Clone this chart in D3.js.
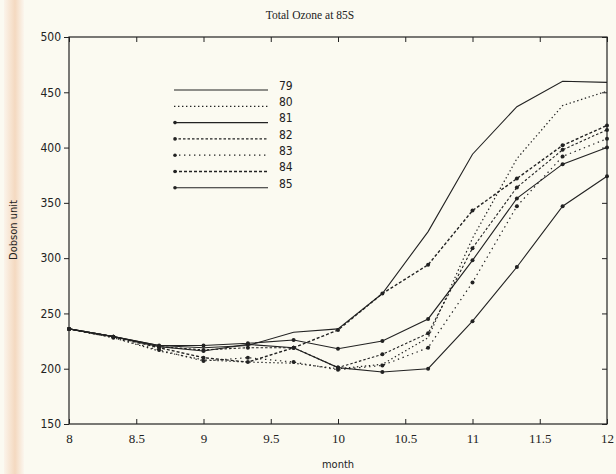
<!DOCTYPE html>
<html>
<head>
<meta charset="utf-8">
<script src="https://cdn.jsdelivr.net/npm/d3@7"></script>
<style>
  body { margin: 0; background: #fbfaf1; }
  svg { display: block; }
</style>
</head>
<body>
<svg width="616" height="474"></svg>
<script>
// month positions (every third of a month)
const months = [8, 8.33, 8.67, 9, 9.33, 9.67, 10, 10.33, 10.67, 11, 11.33, 11.67, 12]
const years = ['79', '80', '81', '82', '83', '84', '85']

// total ozone, Dobson units
const oz79 = [236, 229, 221, 219, 221, 233, 236, 268, 324, 394, 437, 460, 459]
const oz80 = [236, 228, 216, 208, 206, 205, 200, 204, 228, 318, 390, 438, 451]
const oz81 = [236, 229, 221, 221, 223, 226, 218, 225, 245, 298, 354, 385, 400]
const oz82 = [236, 229, 220, 217, 219, 219, 201, 213, 232, 309, 364, 398, 416]
const oz83 = [236, 228, 217, 207, 210, 206, 199, 203, 219, 278, 347, 392, 408]
const oz84 = [236, 229, 219, 210, 206, 219, 235, 268, 294, 343, 372, 402, 420]
const oz85 = [236, 229, 220, 216, 222, 219, 201, 197, 200, 243, 292, 347, 374]

const xTicks = [8, 8.5, 9, 9.5, 10, 10.5, 11, 11.5, 12]
const yTicks = [150, 200, 250, 300, 350, 400, 450, 500]

const allValues = [oz79, oz80, oz81, oz82, oz83, oz84, oz85]
const data = years.map((yr, i) => ({
  name: yr,
  values: months.map((m, j) => ({ month: m, oz: allValues[i][j] }))
}))

// line look per year (solid / dotted / dashed, with or without dots)
const look = {
  '79': { dash: null, dots: false, w: 1.1 },
  '80': { dash: '1.4,2.6', dots: false, w: 1.2 },
  '81': { dash: null, dots: true, w: 1.1 },
  '82': { dash: '2.5,2', dots: true, w: 1.1 },
  '83': { dash: '1.4,3.6', dots: true, w: 1.2 },
  '84': { dash: '3,2', dots: true, w: 1.4 },
  '85': { dash: null, dots: true, w: 1.1 }
}

const svg = d3.select('svg')
const ink = '#222'

// scanner strip on the left edge
const grad = svg.append('defs').append('linearGradient').attr('id', 'strip')
grad.append('stop').attr('offset', '0%').attr('stop-color', '#fbf4ea')
grad.append('stop').attr('offset', '55%').attr('stop-color', '#f4d9c0')
grad.append('stop').attr('offset', '100%').attr('stop-color', '#fbf6ee')
svg.append('rect').attr('x', 4).attr('y', 0).attr('width', 20).attr('height', 474)
  .attr('fill', 'url(#strip)')

const x = d3.scaleLinear().domain([8, 12]).range([69, 607])
const y = d3.scaleLinear().domain([150, 500]).range([424, 37])

const g = svg.append('g')

// frame
g.append('rect')
  .attr('x', x(8)).attr('y', y(500))
  .attr('width', x(12) - x(8)).attr('height', y(150) - y(500))
  .attr('fill', 'none').attr('stroke', ink).attr('stroke-width', 1.2)

// bottom axis, ticks pointing in
const xAxis = g.append('g')
  .attr('transform', 'translate(0,' + y(150) + ')')
  .call(d3.axisBottom(x).tickValues(xTicks).tickSize(-5).tickPadding(10).tickFormat(d3.format('')))
xAxis.select('.domain').remove()
xAxis.selectAll('line').attr('stroke', ink)
xAxis.selectAll('text')
  .attr('font-family', '"Liberation Serif", serif')
  .attr('font-size', 13).attr('fill', ink)

// top ticks
g.append('g')
  .attr('transform', 'translate(0,' + y(500) + ')')
  .call(d3.axisTop(x).tickValues(xTicks).tickSize(-5).tickFormat(''))
  .call(a => a.select('.domain').remove())
  .selectAll('line').attr('stroke', ink)

// left axis, ticks pointing out
const yAxis = g.append('g')
  .attr('transform', 'translate(' + x(8) + ',0)')
  .call(d3.axisLeft(y).tickValues(yTicks).tickSize(5).tickPadding(3))
yAxis.select('.domain').remove()
yAxis.selectAll('line').attr('stroke', ink)
yAxis.selectAll('text')
  .attr('font-family', '"DejaVu Sans Condensed", "DejaVu Sans", sans-serif')
  .attr('font-size', 12).attr('fill', ink)

// right ticks
g.append('g')
  .attr('transform', 'translate(' + x(12) + ',0)')
  .call(d3.axisRight(y).tickValues(yTicks).tickSize(-5).tickFormat(''))
  .call(a => a.select('.domain').remove())
  .selectAll('line').attr('stroke', ink)

// the series
const line = d3.line().x(d => x(d.month)).y(d => y(d.oz))

const series = g.append('g').selectAll('g')
  .data(data)
  .enter().append('g')

series.append('path')
  .attr('d', d => line(d.values))
  .attr('fill', 'none')
  .attr('stroke', ink)
  .attr('stroke-width', d => look[d.name].w)
  .attr('stroke-dasharray', d => look[d.name].dash)

series.filter(d => look[d.name].dots)
  .selectAll('circle')
  .data(d => d.values)
  .enter().append('circle')
  .attr('cx', d => x(d.month))
  .attr('cy', d => y(d.oz))
  .attr('r', 2)
  .attr('fill', ink)

// legend
const legend = g.append('g')
const legendRow = legend.selectAll('g')
  .data(years)
  .enter().append('g')
  .attr('transform', (d, i) => 'translate(0,' + (90 + i * 16.3) + ')')

legendRow.append('line')
  .attr('x1', 174).attr('x2', 268)
  .attr('stroke', ink)
  .attr('stroke-width', d => look[d].w)
  .attr('stroke-dasharray', d => look[d].dash)

legendRow.filter(d => look[d].dots)
  .append('circle')
  .attr('cx', 175).attr('r', 1.8).attr('fill', ink)

legendRow.append('text')
  .attr('x', 279).attr('y', -4)
  .attr('dy', '0.32em')
  .attr('font-family', '"DejaVu Sans Condensed", "DejaVu Sans", sans-serif')
  .attr('font-size', 12).attr('fill', ink)
  .text(d => d)

// titles
svg.append('text')
  .attr('x', 310).attr('y', 19)
  .attr('text-anchor', 'middle')
  .attr('font-family', '"Liberation Serif", serif')
  .attr('font-size', 11.5).attr('fill', ink)
  .text('Total Ozone at 85S')

svg.append('text')
  .attr('x', 338).attr('y', 468)
  .attr('text-anchor', 'middle')
  .attr('font-family', '"DejaVu Sans Condensed", "DejaVu Sans", sans-serif')
  .attr('font-size', 11).attr('fill', ink)
  .text('month')

svg.append('text')
  .attr('transform', 'translate(17,230) rotate(-90)')
  .attr('text-anchor', 'middle')
  .attr('font-family', '"DejaVu Sans Condensed", "DejaVu Sans", sans-serif')
  .attr('font-size', 11).attr('fill', ink)
  .text('Dobson unit')
</script>
</body>
</html>
